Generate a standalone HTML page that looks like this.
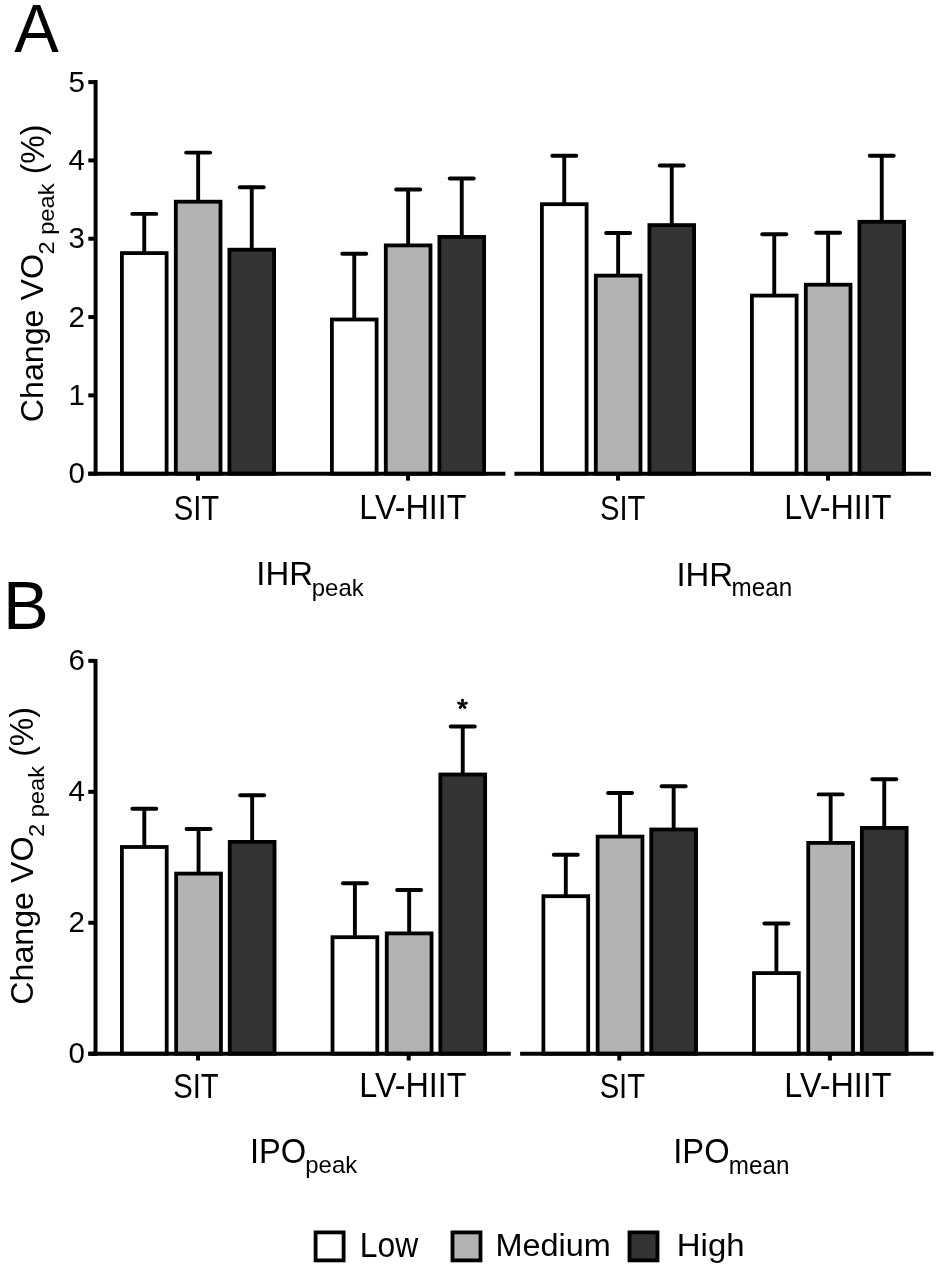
<!DOCTYPE html><html><head><meta charset="utf-8"><style>html,body{margin:0;padding:0;background:#fff;width:937px;height:1271px;overflow:hidden}svg{display:block;filter:grayscale(1)}text{font-family:"Liberation Sans",sans-serif;fill:#000}</style></head><body>
<svg width="937" height="1271" viewBox="0 0 937 1271">
<rect x="0" y="0" width="937" height="1271" fill="#fff"/>
<line x1="144.25" y1="253.10" x2="144.25" y2="213.90" stroke="#000" stroke-width="3.9"/>
<line x1="132.25" y1="213.90" x2="156.25" y2="213.90" stroke="#000" stroke-width="3.9" stroke-linecap="round"/>
<rect x="121.90" y="253.10" width="44.70" height="220.60" fill="#ffffff" stroke="#000" stroke-width="3.8"/>
<line x1="198.15" y1="201.70" x2="198.15" y2="152.60" stroke="#000" stroke-width="3.9"/>
<line x1="186.15" y1="152.60" x2="210.15" y2="152.60" stroke="#000" stroke-width="3.9" stroke-linecap="round"/>
<rect x="175.80" y="201.70" width="44.70" height="272.00" fill="#b3b3b3" stroke="#000" stroke-width="3.8"/>
<line x1="251.75" y1="249.70" x2="251.75" y2="187.20" stroke="#000" stroke-width="3.9"/>
<line x1="239.75" y1="187.20" x2="263.75" y2="187.20" stroke="#000" stroke-width="3.9" stroke-linecap="round"/>
<rect x="229.40" y="249.70" width="44.70" height="224.00" fill="#333333" stroke="#000" stroke-width="3.8"/>
<line x1="354.25" y1="319.50" x2="354.25" y2="253.80" stroke="#000" stroke-width="3.9"/>
<line x1="342.25" y1="253.80" x2="366.25" y2="253.80" stroke="#000" stroke-width="3.9" stroke-linecap="round"/>
<rect x="331.90" y="319.50" width="44.70" height="154.20" fill="#ffffff" stroke="#000" stroke-width="3.8"/>
<line x1="408.15" y1="245.40" x2="408.15" y2="189.50" stroke="#000" stroke-width="3.9"/>
<line x1="396.15" y1="189.50" x2="420.15" y2="189.50" stroke="#000" stroke-width="3.9" stroke-linecap="round"/>
<rect x="385.80" y="245.40" width="44.70" height="228.30" fill="#b3b3b3" stroke="#000" stroke-width="3.8"/>
<line x1="461.75" y1="236.90" x2="461.75" y2="178.50" stroke="#000" stroke-width="3.9"/>
<line x1="449.75" y1="178.50" x2="473.75" y2="178.50" stroke="#000" stroke-width="3.9" stroke-linecap="round"/>
<rect x="439.40" y="236.90" width="44.70" height="236.80" fill="#333333" stroke="#000" stroke-width="3.8"/>
<line x1="564.25" y1="204.20" x2="564.25" y2="155.80" stroke="#000" stroke-width="3.9"/>
<line x1="552.25" y1="155.80" x2="576.25" y2="155.80" stroke="#000" stroke-width="3.9" stroke-linecap="round"/>
<rect x="541.90" y="204.20" width="44.70" height="269.50" fill="#ffffff" stroke="#000" stroke-width="3.8"/>
<line x1="618.15" y1="275.60" x2="618.15" y2="233.00" stroke="#000" stroke-width="3.9"/>
<line x1="606.15" y1="233.00" x2="630.15" y2="233.00" stroke="#000" stroke-width="3.9" stroke-linecap="round"/>
<rect x="595.80" y="275.60" width="44.70" height="198.10" fill="#b3b3b3" stroke="#000" stroke-width="3.8"/>
<line x1="671.75" y1="225.10" x2="671.75" y2="165.50" stroke="#000" stroke-width="3.9"/>
<line x1="659.75" y1="165.50" x2="683.75" y2="165.50" stroke="#000" stroke-width="3.9" stroke-linecap="round"/>
<rect x="649.40" y="225.10" width="44.70" height="248.60" fill="#333333" stroke="#000" stroke-width="3.8"/>
<line x1="774.25" y1="295.60" x2="774.25" y2="234.20" stroke="#000" stroke-width="3.9"/>
<line x1="762.25" y1="234.20" x2="786.25" y2="234.20" stroke="#000" stroke-width="3.9" stroke-linecap="round"/>
<rect x="751.90" y="295.60" width="44.70" height="178.10" fill="#ffffff" stroke="#000" stroke-width="3.8"/>
<line x1="828.15" y1="284.70" x2="828.15" y2="232.70" stroke="#000" stroke-width="3.9"/>
<line x1="816.15" y1="232.70" x2="840.15" y2="232.70" stroke="#000" stroke-width="3.9" stroke-linecap="round"/>
<rect x="805.80" y="284.70" width="44.70" height="189.00" fill="#b3b3b3" stroke="#000" stroke-width="3.8"/>
<line x1="881.75" y1="221.80" x2="881.75" y2="155.80" stroke="#000" stroke-width="3.9"/>
<line x1="869.75" y1="155.80" x2="893.75" y2="155.80" stroke="#000" stroke-width="3.9" stroke-linecap="round"/>
<rect x="859.40" y="221.80" width="44.70" height="251.90" fill="#333333" stroke="#000" stroke-width="3.8"/>
<line x1="95.60" y1="80.10" x2="95.60" y2="475.70" stroke="#000" stroke-width="4.0"/>
<line x1="88.30" y1="473.70" x2="95.60" y2="473.70" stroke="#000" stroke-width="4.0"/>
<line x1="88.30" y1="395.38" x2="95.60" y2="395.38" stroke="#000" stroke-width="4.0"/>
<line x1="88.30" y1="317.06" x2="95.60" y2="317.06" stroke="#000" stroke-width="4.0"/>
<line x1="88.30" y1="238.74" x2="95.60" y2="238.74" stroke="#000" stroke-width="4.0"/>
<line x1="88.30" y1="160.42" x2="95.60" y2="160.42" stroke="#000" stroke-width="4.0"/>
<line x1="88.30" y1="82.10" x2="95.60" y2="82.10" stroke="#000" stroke-width="4.0"/>
<line x1="88.30" y1="473.70" x2="505.40" y2="473.70" stroke="#000" stroke-width="4.0"/>
<line x1="514.40" y1="473.70" x2="931.00" y2="473.70" stroke="#000" stroke-width="4.0"/>
<line x1="198.00" y1="473.70" x2="198.00" y2="480.60" stroke="#000" stroke-width="4.0"/>
<line x1="408.00" y1="473.70" x2="408.00" y2="480.60" stroke="#000" stroke-width="4.0"/>
<line x1="618.00" y1="473.70" x2="618.00" y2="480.60" stroke="#000" stroke-width="4.0"/>
<line x1="828.00" y1="473.70" x2="828.00" y2="480.60" stroke="#000" stroke-width="4.0"/>
<line x1="144.30" y1="847.00" x2="144.30" y2="808.70" stroke="#000" stroke-width="3.9"/>
<line x1="132.30" y1="808.70" x2="156.30" y2="808.70" stroke="#000" stroke-width="3.9" stroke-linecap="round"/>
<rect x="121.90" y="847.00" width="44.80" height="206.70" fill="#ffffff" stroke="#000" stroke-width="3.8"/>
<line x1="198.55" y1="873.60" x2="198.55" y2="829.00" stroke="#000" stroke-width="3.9"/>
<line x1="186.55" y1="829.00" x2="210.55" y2="829.00" stroke="#000" stroke-width="3.9" stroke-linecap="round"/>
<rect x="176.15" y="873.60" width="44.80" height="180.10" fill="#b3b3b3" stroke="#000" stroke-width="3.8"/>
<line x1="252.15" y1="841.90" x2="252.15" y2="795.30" stroke="#000" stroke-width="3.9"/>
<line x1="240.15" y1="795.30" x2="264.15" y2="795.30" stroke="#000" stroke-width="3.9" stroke-linecap="round"/>
<rect x="229.75" y="841.90" width="44.80" height="211.80" fill="#333333" stroke="#000" stroke-width="3.8"/>
<line x1="354.90" y1="937.20" x2="354.90" y2="883.20" stroke="#000" stroke-width="3.9"/>
<line x1="342.90" y1="883.20" x2="366.90" y2="883.20" stroke="#000" stroke-width="3.9" stroke-linecap="round"/>
<rect x="332.50" y="937.20" width="44.80" height="116.50" fill="#ffffff" stroke="#000" stroke-width="3.8"/>
<line x1="409.15" y1="933.40" x2="409.15" y2="890.00" stroke="#000" stroke-width="3.9"/>
<line x1="397.15" y1="890.00" x2="421.15" y2="890.00" stroke="#000" stroke-width="3.9" stroke-linecap="round"/>
<rect x="386.75" y="933.40" width="44.80" height="120.30" fill="#b3b3b3" stroke="#000" stroke-width="3.8"/>
<line x1="462.75" y1="774.50" x2="462.75" y2="726.50" stroke="#000" stroke-width="3.9"/>
<line x1="450.75" y1="726.50" x2="474.75" y2="726.50" stroke="#000" stroke-width="3.9" stroke-linecap="round"/>
<rect x="440.35" y="774.50" width="44.80" height="279.20" fill="#333333" stroke="#000" stroke-width="3.8"/>
<line x1="565.80" y1="896.20" x2="565.80" y2="854.70" stroke="#000" stroke-width="3.9"/>
<line x1="553.80" y1="854.70" x2="577.80" y2="854.70" stroke="#000" stroke-width="3.9" stroke-linecap="round"/>
<rect x="543.40" y="896.20" width="44.80" height="157.50" fill="#ffffff" stroke="#000" stroke-width="3.8"/>
<line x1="620.05" y1="836.60" x2="620.05" y2="793.00" stroke="#000" stroke-width="3.9"/>
<line x1="608.05" y1="793.00" x2="632.05" y2="793.00" stroke="#000" stroke-width="3.9" stroke-linecap="round"/>
<rect x="597.65" y="836.60" width="44.80" height="217.10" fill="#b3b3b3" stroke="#000" stroke-width="3.8"/>
<line x1="673.65" y1="829.50" x2="673.65" y2="786.20" stroke="#000" stroke-width="3.9"/>
<line x1="661.65" y1="786.20" x2="685.65" y2="786.20" stroke="#000" stroke-width="3.9" stroke-linecap="round"/>
<rect x="651.25" y="829.50" width="44.80" height="224.20" fill="#333333" stroke="#000" stroke-width="3.8"/>
<line x1="776.40" y1="973.10" x2="776.40" y2="923.50" stroke="#000" stroke-width="3.9"/>
<line x1="764.40" y1="923.50" x2="788.40" y2="923.50" stroke="#000" stroke-width="3.9" stroke-linecap="round"/>
<rect x="754.00" y="973.10" width="44.80" height="80.60" fill="#ffffff" stroke="#000" stroke-width="3.8"/>
<line x1="830.65" y1="842.90" x2="830.65" y2="794.40" stroke="#000" stroke-width="3.9"/>
<line x1="818.65" y1="794.40" x2="842.65" y2="794.40" stroke="#000" stroke-width="3.9" stroke-linecap="round"/>
<rect x="808.25" y="842.90" width="44.80" height="210.80" fill="#b3b3b3" stroke="#000" stroke-width="3.8"/>
<line x1="884.25" y1="827.90" x2="884.25" y2="779.30" stroke="#000" stroke-width="3.9"/>
<line x1="872.25" y1="779.30" x2="896.25" y2="779.30" stroke="#000" stroke-width="3.9" stroke-linecap="round"/>
<rect x="861.85" y="827.90" width="44.80" height="225.80" fill="#333333" stroke="#000" stroke-width="3.8"/>
<line x1="95.50" y1="658.88" x2="95.50" y2="1055.70" stroke="#000" stroke-width="4.0"/>
<line x1="88.30" y1="1053.70" x2="95.50" y2="1053.70" stroke="#000" stroke-width="4.0"/>
<line x1="88.30" y1="922.76" x2="95.50" y2="922.76" stroke="#000" stroke-width="4.0"/>
<line x1="88.30" y1="791.82" x2="95.50" y2="791.82" stroke="#000" stroke-width="4.0"/>
<line x1="88.30" y1="660.88" x2="95.50" y2="660.88" stroke="#000" stroke-width="4.0"/>
<line x1="88.30" y1="1053.70" x2="510.80" y2="1053.70" stroke="#000" stroke-width="4.0"/>
<line x1="520.10" y1="1053.70" x2="933.50" y2="1053.70" stroke="#000" stroke-width="4.0"/>
<line x1="198.00" y1="1053.70" x2="198.00" y2="1060.50" stroke="#000" stroke-width="4.0"/>
<line x1="408.70" y1="1053.70" x2="408.70" y2="1060.50" stroke="#000" stroke-width="4.0"/>
<line x1="619.30" y1="1053.70" x2="619.30" y2="1060.50" stroke="#000" stroke-width="4.0"/>
<line x1="829.90" y1="1053.70" x2="829.90" y2="1060.50" stroke="#000" stroke-width="4.0"/>
<text x="14.31" y="51.90" font-size="68.556" textLength="44.53" lengthAdjust="spacingAndGlyphs">A</text>
<text x="3.01" y="628.50" font-size="68.495" textLength="45.77" lengthAdjust="spacingAndGlyphs">B</text>
<text x="173.73" y="519.50" font-size="34.803" textLength="45.48" lengthAdjust="spacingAndGlyphs">SIT</text>
<text x="359.32" y="519.20" font-size="34.17" textLength="107.23" lengthAdjust="spacingAndGlyphs">LV-HIIT</text>
<text x="599.93" y="519.90" font-size="34.803" textLength="45.48" lengthAdjust="spacingAndGlyphs">SIT</text>
<text x="784.32" y="519.00" font-size="34.17" textLength="107.23" lengthAdjust="spacingAndGlyphs">LV-HIIT</text>
<text x="173.15" y="1097.50" font-size="34.803" textLength="45.48" lengthAdjust="spacingAndGlyphs">SIT</text>
<text x="359.32" y="1097.20" font-size="34.17" textLength="107.23" lengthAdjust="spacingAndGlyphs">LV-HIIT</text>
<text x="599.64" y="1097.66" font-size="34.803" textLength="45.48" lengthAdjust="spacingAndGlyphs">SIT</text>
<text x="784.32" y="1097.00" font-size="34.17" textLength="107.23" lengthAdjust="spacingAndGlyphs">LV-HIIT</text>
<text x="256.33" y="585.20" font-size="33.775" textLength="56.62" lengthAdjust="spacingAndGlyphs">IHR</text>
<text x="311.80" y="595.86" font-size="23.466" textLength="51.84" lengthAdjust="spacingAndGlyphs">peak</text>
<text x="676.43" y="585.60" font-size="33.775" textLength="56.62" lengthAdjust="spacingAndGlyphs">IHR</text>
<text x="731.60" y="596.48" font-size="24.899" textLength="60.58" lengthAdjust="spacingAndGlyphs">mean</text>
<text x="249.94" y="1162.86" font-size="35.227" textLength="56.37" lengthAdjust="spacingAndGlyphs">IPO</text>
<text x="305.30" y="1173.20" font-size="23.466" textLength="51.84" lengthAdjust="spacingAndGlyphs">peak</text>
<text x="673.26" y="1162.86" font-size="35.227" textLength="56.37" lengthAdjust="spacingAndGlyphs">IPO</text>
<text x="728.82" y="1173.52" font-size="24.899" textLength="60.58" lengthAdjust="spacingAndGlyphs">mean</text>
<text x="359.80" y="1256.50" font-size="34.964" textLength="58.34" lengthAdjust="spacingAndGlyphs">Low</text>
<text x="495.45" y="1256.30" font-size="31.27" textLength="115.33" lengthAdjust="spacingAndGlyphs">Medium</text>
<text x="676.79" y="1256.30" font-size="32.111" textLength="67.80" lengthAdjust="spacingAndGlyphs">High</text>
<text x="85.00" y="483.30" font-size="29.5" text-anchor="end">0</text>
<text x="85.00" y="404.98" font-size="29.5" text-anchor="end">1</text>
<text x="85.00" y="326.66" font-size="29.5" text-anchor="end">2</text>
<text x="85.00" y="248.34" font-size="29.5" text-anchor="end">3</text>
<text x="85.00" y="170.02" font-size="29.5" text-anchor="end">4</text>
<text x="85.00" y="91.70" font-size="29.5" text-anchor="end">5</text>
<text x="85.00" y="1063.30" font-size="29.5" text-anchor="end">0</text>
<text x="85.00" y="932.36" font-size="29.5" text-anchor="end">2</text>
<text x="85.00" y="801.42" font-size="29.5" text-anchor="end">4</text>
<text x="85.00" y="670.48" font-size="29.5" text-anchor="end">6</text>
<g transform="translate(44.00,422.00) rotate(-90)">
<text x="-0.25" y="-0.78" font-size="31.908" textLength="168.19" lengthAdjust="spacingAndGlyphs">Change VO</text>
<text x="167.43" y="10.00" font-size="22.298" textLength="71.17" lengthAdjust="spacingAndGlyphs">2 peak</text>
<text x="247.69" y="-0.30" font-size="32.93" textLength="49.84" lengthAdjust="spacingAndGlyphs">(%)</text>
</g>
<g transform="translate(33.60,1004.50) rotate(-90)">
<text x="-0.25" y="-0.78" font-size="31.908" textLength="168.19" lengthAdjust="spacingAndGlyphs">Change VO</text>
<text x="167.43" y="10.00" font-size="22.298" textLength="71.17" lengthAdjust="spacingAndGlyphs">2 peak</text>
<text x="247.69" y="-0.30" font-size="32.93" textLength="49.84" lengthAdjust="spacingAndGlyphs">(%)</text>
</g>
<circle cx="462.50" cy="700.20" r="1.40" fill="#000"/>
<circle cx="458.60" cy="703.03" r="1.40" fill="#000"/>
<circle cx="460.09" cy="707.62" r="1.40" fill="#000"/>
<circle cx="464.91" cy="707.62" r="1.40" fill="#000"/>
<circle cx="466.40" cy="703.03" r="1.40" fill="#000"/>
<path d="M463.40,704.30L463.90,700.20L461.10,700.20L461.60,704.30ZM462.78,703.44L459.03,701.70L458.17,704.36L462.22,705.16ZM461.77,703.77L458.96,706.79L461.22,708.44L463.23,704.83ZM461.77,704.83L463.78,708.44L466.04,706.79L463.23,703.77ZM462.78,705.16L466.83,704.36L465.97,701.70L462.22,703.44Z" fill="#000"/>
<circle cx="462.50" cy="704.30" r="1.44" fill="#000"/>
<rect x="315.60" y="1232.40" width="28.00" height="28.00" fill="#ffffff" stroke="#000" stroke-width="3.8"/>
<rect x="452.50" y="1232.40" width="28.00" height="28.00" fill="#b3b3b3" stroke="#000" stroke-width="3.8"/>
<rect x="629.50" y="1232.40" width="28.00" height="28.00" fill="#333333" stroke="#000" stroke-width="3.8"/>
</svg></body></html>
